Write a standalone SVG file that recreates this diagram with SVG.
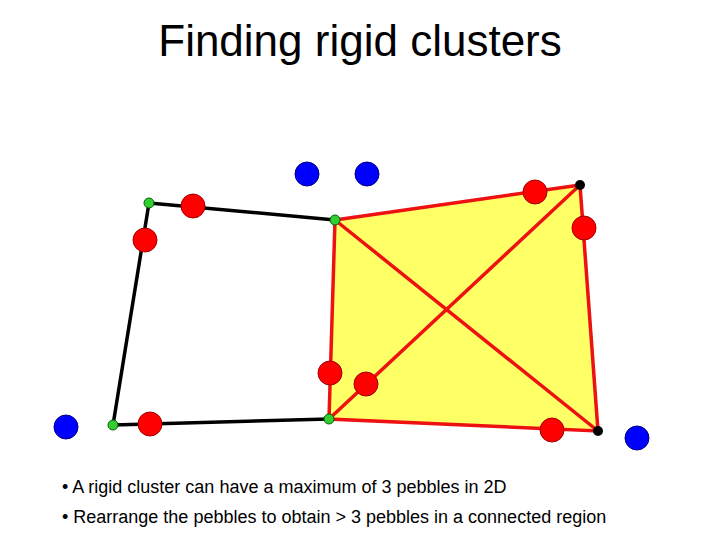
<svg xmlns="http://www.w3.org/2000/svg" width="720" height="540" viewBox="0 0 720 540">
<style>
.t{font-family:"Liberation Sans",Arial,sans-serif;fill:#000}
.red{fill:#ff0000;stroke:#a00000;stroke-width:1}
.blue{fill:#0000ff;stroke:#000080;stroke-width:1}
.grn{fill:#33cc33;stroke:#006600;stroke-width:1}
.blk{fill:#000}
</style>
<rect width="720" height="540" fill="#fff"/>
<text class="t" x="360" y="56" font-size="44" text-anchor="middle">Finding rigid clusters</text>
<polygon points="335,220 580,185 598,431 329,419" fill="#ffff66" stroke="none"/>
<g id="connectors" fill="none" stroke-width="3.5">
<line x1="149" y1="203" x2="335" y2="220" stroke="#000"/>
<line x1="149" y1="203" x2="113" y2="425" stroke="#000"/>
<line x1="113" y1="425" x2="329" y2="419" stroke="#000"/>
<polygon points="335,220 580,185 598,431 329,419" stroke="#ee1111"/>
<line x1="335" y1="220" x2="598" y2="431" stroke="#ee1111"/>
<line x1="580" y1="185" x2="329" y2="419" stroke="#ee1111"/>
</g>
<g id="n1"><circle class="grn" cx="149" cy="203" r="5"/></g>
<g id="n2"><circle class="grn" cx="335" cy="220" r="5"/></g>
<g id="n3"><circle class="grn" cx="113" cy="425" r="5"/></g>
<g id="n4"><circle class="grn" cx="329" cy="419" r="5"/></g>
<g id="n5"><circle class="blk" cx="580" cy="185" r="5"/></g>
<g id="n6"><circle class="blk" cx="598" cy="431" r="5"/></g>
<g id="pebbles">
<circle class="red" cx="193" cy="206" r="12"/>
<circle class="red" cx="145" cy="240" r="12"/>
<circle class="red" cx="150" cy="424" r="12"/>
<circle class="red" cx="330" cy="373" r="12"/>
<circle class="red" cx="366" cy="384" r="12"/>
<circle class="red" cx="535" cy="192" r="12"/>
<circle class="red" cx="584" cy="228" r="12"/>
<circle class="red" cx="552" cy="430" r="12"/>
<circle class="blue" cx="307" cy="174" r="12"/>
<circle class="blue" cx="367" cy="174" r="12"/>
<circle class="blue" cx="66" cy="427" r="12"/>
<circle class="blue" cx="637" cy="438" r="12"/>
</g>
<text class="t" x="62" y="493" font-size="18">• A rigid cluster can have a maximum of 3 pebbles in 2D</text>
<text class="t" x="62" y="523" font-size="18">• Rearrange the pebbles to obtain &gt; 3 pebbles in a connected region</text>
</svg>
